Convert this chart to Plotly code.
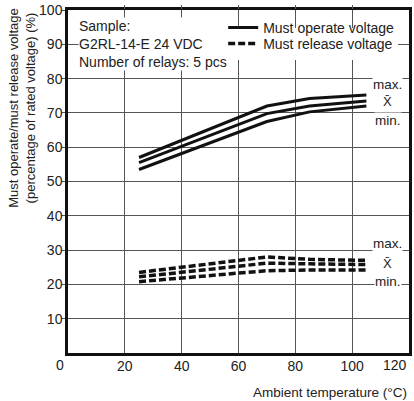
import plotly.graph_objects as go

temp = [25, 70, 85, 105]
operate_max = [57.0, 72.0, 74.2, 75.2]
operate_mean = [55.5, 69.8, 72.0, 73.5]
operate_min = [53.5, 67.5, 70.3, 72.0]
release_max = [23.5, 28.0, 27.3, 27.0]
release_mean = [22.2, 26.2, 26.0, 25.8]
release_min = [20.8, 24.0, 24.2, 24.2]

x_ticks = [20, 40, 60, 80, 100]
y_ticks = [10, 20, 30, 40, 50, 60, 70, 80, 90, 100]

FONT = "Liberation Sans, Arial, sans-serif"
TXT = "#222"

fig = go.Figure()
op_series = [operate_max, operate_mean, operate_min]
rel_series = [release_max, release_mean, release_min]
for i, s in enumerate(rel_series):
    fig.add_trace(go.Scatter(x=temp, y=s, mode="lines",
                             line=dict(color="#111", width=3.5, dash="7px,3px"),
                             name="Must release voltage", showlegend=(i == 0),
                             legend="legend"))
for i, s in enumerate(op_series):
    fig.add_trace(go.Scatter(x=temp, y=s, mode="lines",
                             line=dict(color="#111", width=3),
                             name="Must operate voltage", showlegend=(i == 0),
                             legend="legend2"))

# dummy trace for top axis ticks
fig.add_trace(go.Scatter(x=[0, 120], y=[0, 0], xaxis="x2", mode="none",
                         showlegend=False, hoverinfo="skip"))

annotations = [
    dict(text="Sample:<br>G2RL-14-E 24 VDC<br>Number of relays: 5 pcs",
         xref="paper", yref="paper", x=0.03, y=0.98, xanchor="left", yanchor="top",
         align="left", showarrow=False, bgcolor="white", borderpad=0,
         font=dict(size=14, color=TXT, family=FONT)),
    dict(text="0", xref="x", yref="paper", x=0, y=0, yanchor="top", yshift=-2, xshift=-8,
         showarrow=False, font=dict(size=14, color=TXT, family=FONT)),
    dict(text="120", xref="x", yref="paper", x=120, y=0, yanchor="top", yshift=-2,
         xanchor="right", showarrow=False, font=dict(size=14, color=TXT, family=FONT)),
    dict(text="Ambient temperature (°C)", xref="paper", yref="paper", x=1.0, y=-0.116,
         xanchor="right", yanchor="middle", showarrow=False,
         font=dict(size=13.5, color=TXT, family=FONT)),
    dict(text="Must operate/must release voltage<br>(percentage of rated voltage) (%)",
         xref="paper", yref="paper", x=-0.135, y=0.715, textangle=-90,
         xanchor="center", yanchor="middle", showarrow=False,
         font=dict(size=13, color=TXT, family=FONT)),
]
for label, yv in [("max.", 78.2), ("X̄", 73.4), ("min.", 67.8),
                  ("max.", 31.8), ("X̄", 26.2), ("min.", 20.9)]:
    annotations.append(dict(text=label, xref="x", yref="y", x=112.5, y=yv,
                            showarrow=False, bgcolor="white", borderpad=0,
                            font=dict(size=13.5 if label != "X̄" else 13,
                                      color=TXT, family=FONT)))

leg_common = dict(xanchor="left", yanchor="middle",
                  font=dict(size=14, color=TXT, family=FONT), itemwidth=30,
                  borderwidth=0)
fig.update_layout(
    width=414, height=401,
    margin=dict(l=68, r=2, t=9, b=48),
    paper_bgcolor="white", plot_bgcolor="white",
    font=dict(family=FONT, color=TXT),
    xaxis=dict(range=[0, 120], tickvals=x_ticks, showgrid=True, gridcolor="#555",
               gridwidth=1, showline=True, linecolor="#111", linewidth=2.5, mirror=True,
               ticks="", zeroline=False, tickfont=dict(size=14, color=TXT),
               ticklabelstandoff=-2),
    xaxis2=dict(range=[0, 120], overlaying="x", side="top", tickvals=x_ticks,
                ticks="outside", ticklen=4, tickcolor="#555", showticklabels=False,
                showgrid=False, zeroline=False),
    yaxis=dict(range=[0, 100], tickvals=y_ticks, showgrid=True, gridcolor="#555",
               gridwidth=1, showline=True, linecolor="#111", linewidth=2.5, mirror=True,
               ticks="outside", ticklen=4, tickcolor="#555", zeroline=False,
               tickfont=dict(size=14, color=TXT), ticklabelstandoff=-4),
    legend=dict(x=0.455, y=0.901, bgcolor="white", **leg_common),
    legend2=dict(x=0.455, y=0.948, bgcolor="rgba(0,0,0,0)", **leg_common),
    annotations=annotations,
)
fig.write_html("out.html")
